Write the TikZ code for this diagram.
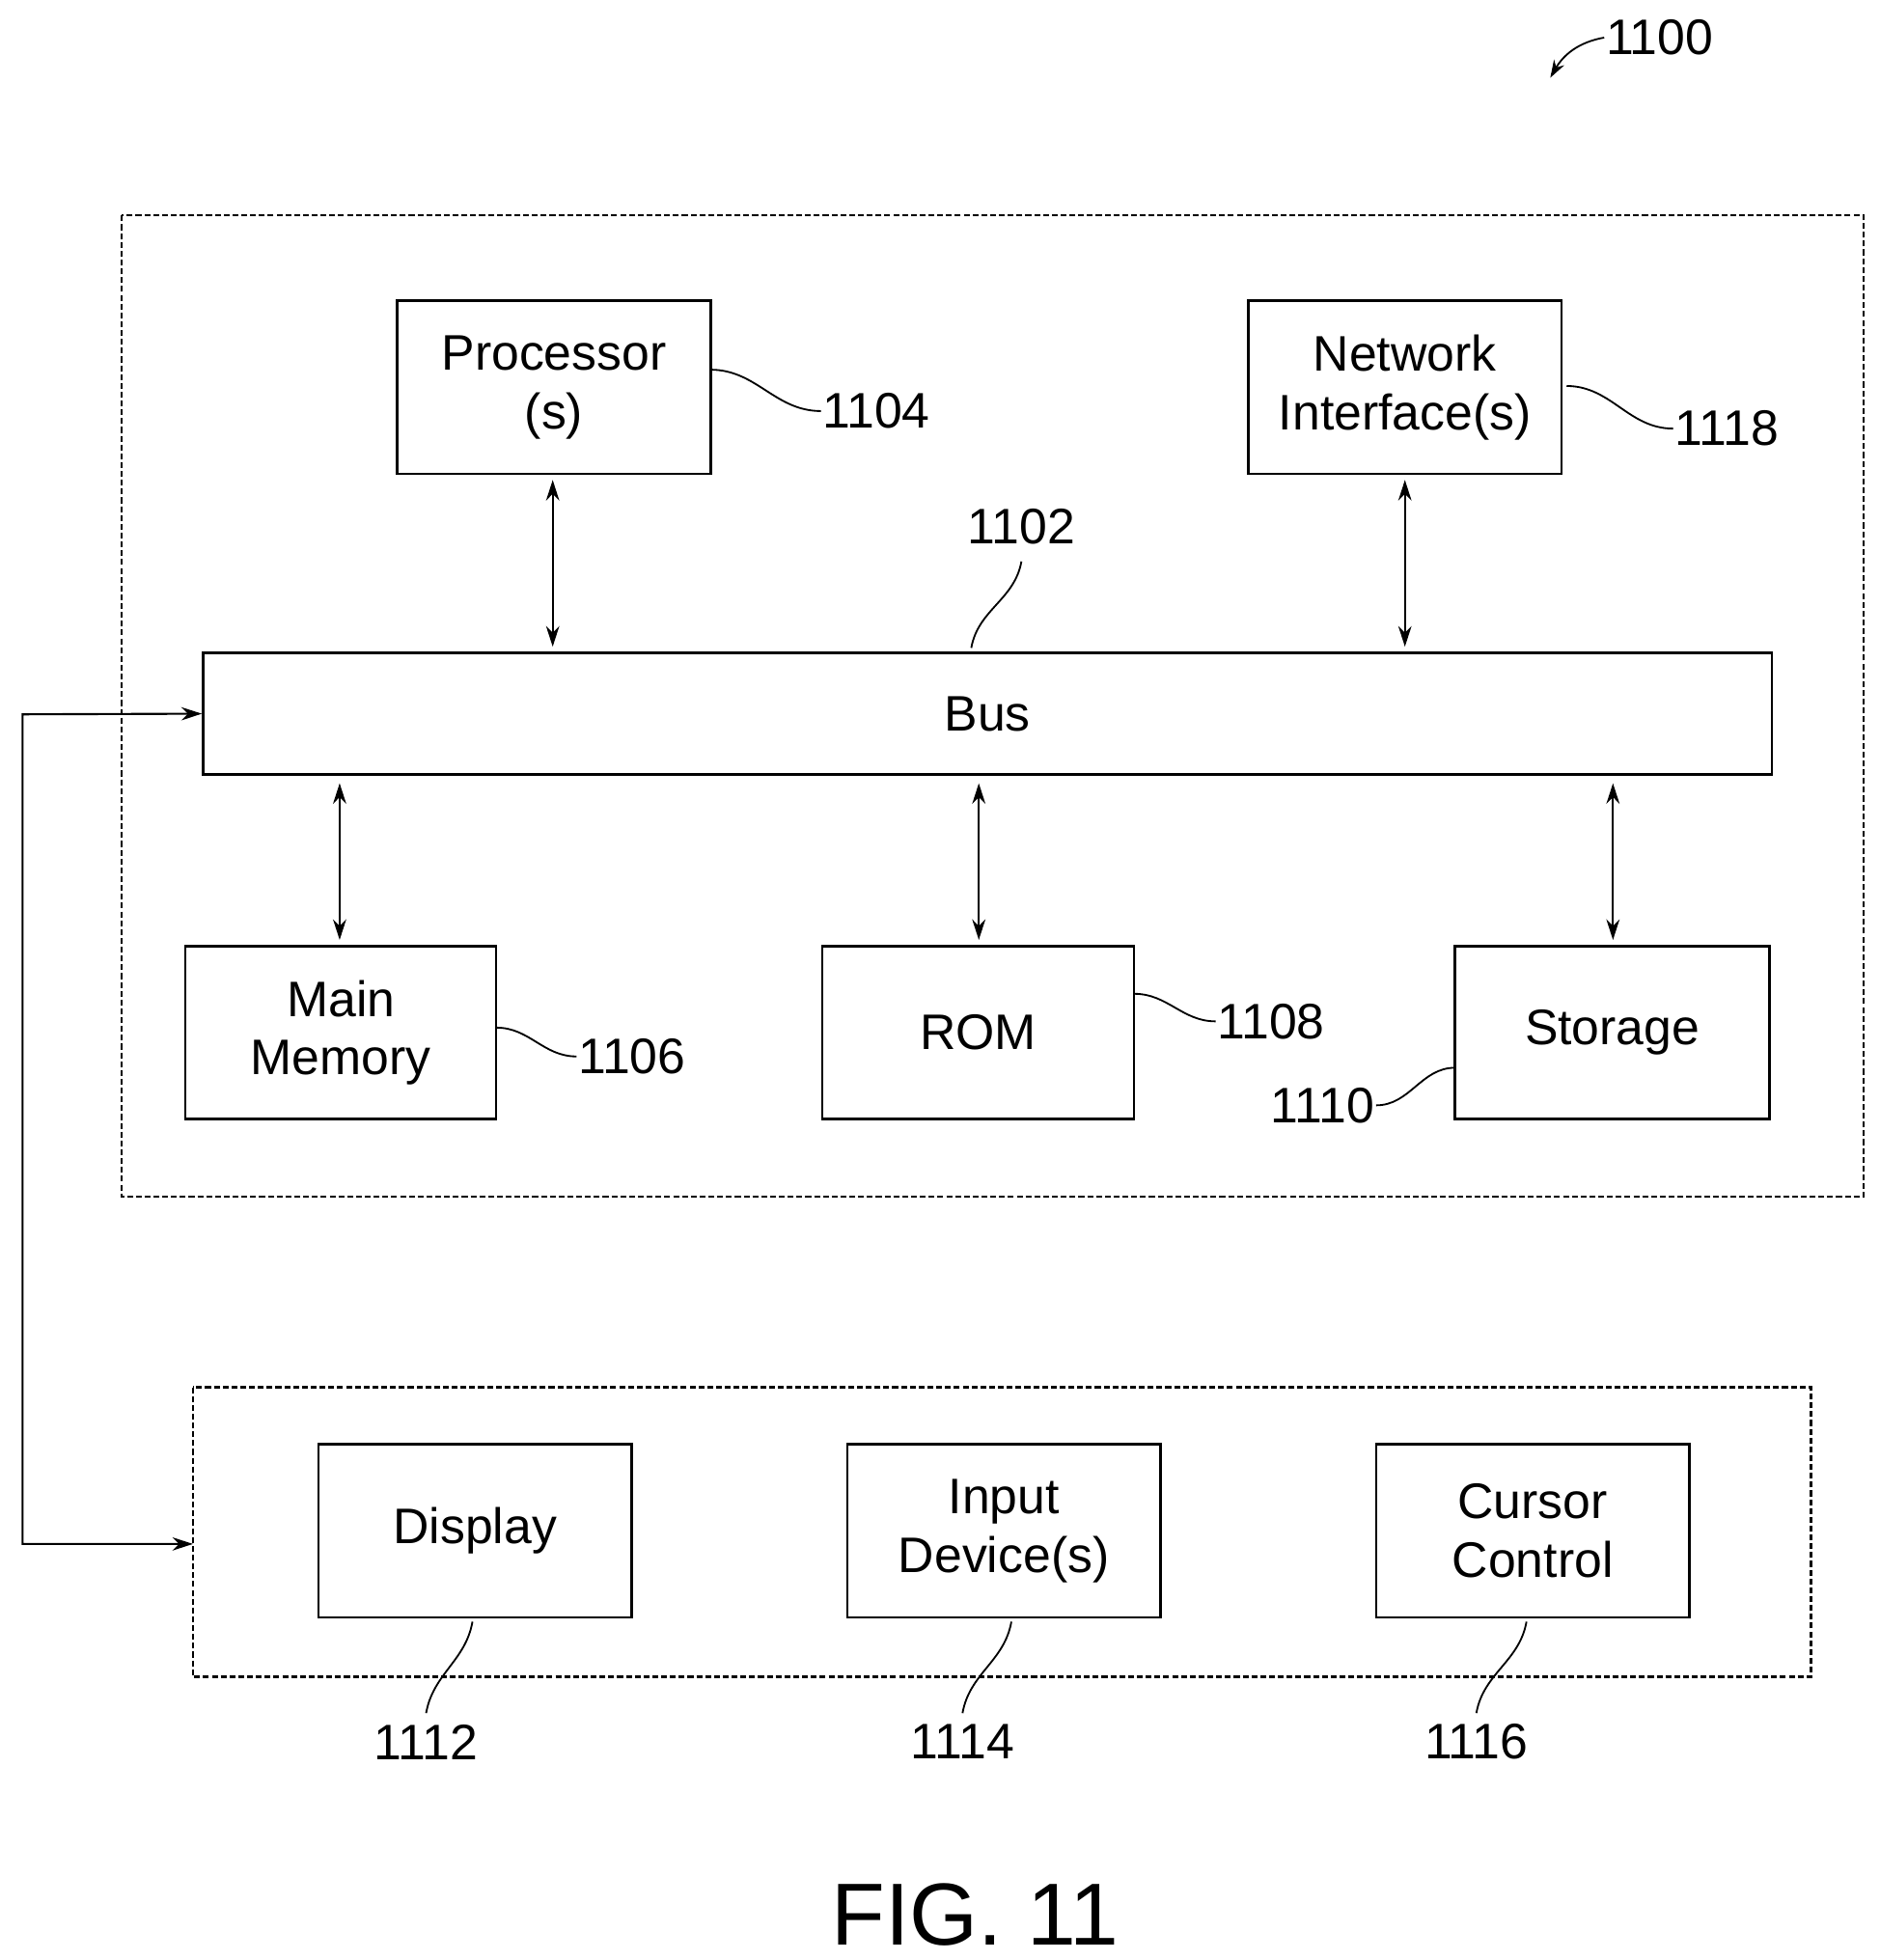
\documentclass[tikz,border=0pt]{standalone}
\usepackage{fontspec}
\setmainfont{Liberation Sans}
\usetikzlibrary{arrows.meta}
\begin{document}
\begin{tikzpicture}[x=0.03cm,y=-0.03cm,
  box/.style={draw,line width=1.6pt,minimum width=250*0.03cm,minimum height=138*0.03cm,align=center,font=\fontsize{34}{40}\selectfont,inner sep=0pt},
  lbl/.style={font=\fontsize{34}{40}\selectfont,inner sep=1pt},
  dashbox/.style={draw,line width=1.4pt,dash pattern=on 4pt off 2pt},
  dbl/.style={line width=1.4pt,{Stealth[length=14pt,width=9pt]}-{Stealth[length=14pt,width=9pt]}},
  lead/.style={line width=1.2pt}]
\useasboundingbox (0,0) rectangle (1500,1564);
\draw[dashbox] (97,172) rectangle (1487,955);
\draw[dashbox] (154,1107) rectangle (1445,1338);
\node[box] (proc) at (442,309) {Processor\\(s)};
\node[box] (net) at (1121,309) {Network\\Interface(s)};
\node[box,minimum width=1252*0.03cm,minimum height=97*0.03cm] (bus) at (788,569.5) {Bus};
\node[box,minimum width=248*0.03cm] (mm) at (272,824) {Main\\Memory};
\node[box,minimum width=249*0.03cm] (rom) at (780.5,824) {ROM};
\node[box,minimum width=251*0.03cm] (sto) at (1286.5,824) {Storage};
\node[box] (disp) at (379,1221.5) {Display};
\node[box] (inp) at (801,1221.5) {Input\\Device(s)};
\node[box] (cur) at (1223,1221.5) {Cursor\\Control};
\draw[dbl] (441,383) -- (441,516);
\draw[dbl] (1121,383) -- (1121,516);
\draw[dbl] (271,625) -- (271,750);
\draw[dbl] (781,625) -- (781,750);
\draw[dbl] (1287,625) -- (1287,750);
\coordinate (c1) at (18,570);
\coordinate (c2) at (18,1232);
\coordinate (c3) at (154,1232);
\draw[line width=1.4pt,{Stealth[length=14pt,width=9pt]}-{Stealth[length=14pt,width=9pt]}] (bus.west) -- (c1) -- (c2) -- (c3);
\node[lbl,anchor=west] (l1104) at (655,328) {1104};
\draw[lead] (567,295) to[out=0,in=180] (l1104.west);
\node[lbl,anchor=west] (l1118) at (1335,342) {1118};
\draw[lead] (1250,308) to[out=0,in=180] (l1118.west);
\node[lbl] (l1102) at (815,420) {1102};
\draw[lead] (775,517) to[out=80,in=260] (815,448);
\node[lbl,anchor=west] (l1106) at (460,843) {1106};
\draw[lead] (396,820) to[out=0,in=180] (l1106.west);
\node[lbl,anchor=west] (l1108) at (970,815) {1108};
\draw[lead] (905,793) to[out=0,in=180] (l1108.west);
\node[lbl,anchor=east] (l1110) at (1098,882) {1110};
\draw[lead] (l1110.east) to[out=0,in=180] (1161,852);
\node[lbl] (l1112) at (340,1390) {1112};
\draw[lead] (377,1294) to[out=260,in=80] (340,1367);
\node[lbl] (l1114) at (768,1390) {1114};
\draw[lead] (807,1294) to[out=260,in=80] (768,1367);
\node[lbl] (l1116) at (1178,1390) {1116};
\draw[lead] (1218,1294) to[out=260,in=80] (1178,1367);
\node[lbl,anchor=west] (l1100) at (1280,30) {1100};
\draw[lead,-{Stealth[length=12pt,width=8pt]}] (l1100.west) to[out=190,in=60] (1237,62);
\node[font=\fontsize{60}{70}\selectfont] (fig) at (778,1528) {FIG. 11};
\end{tikzpicture}
\end{document}
